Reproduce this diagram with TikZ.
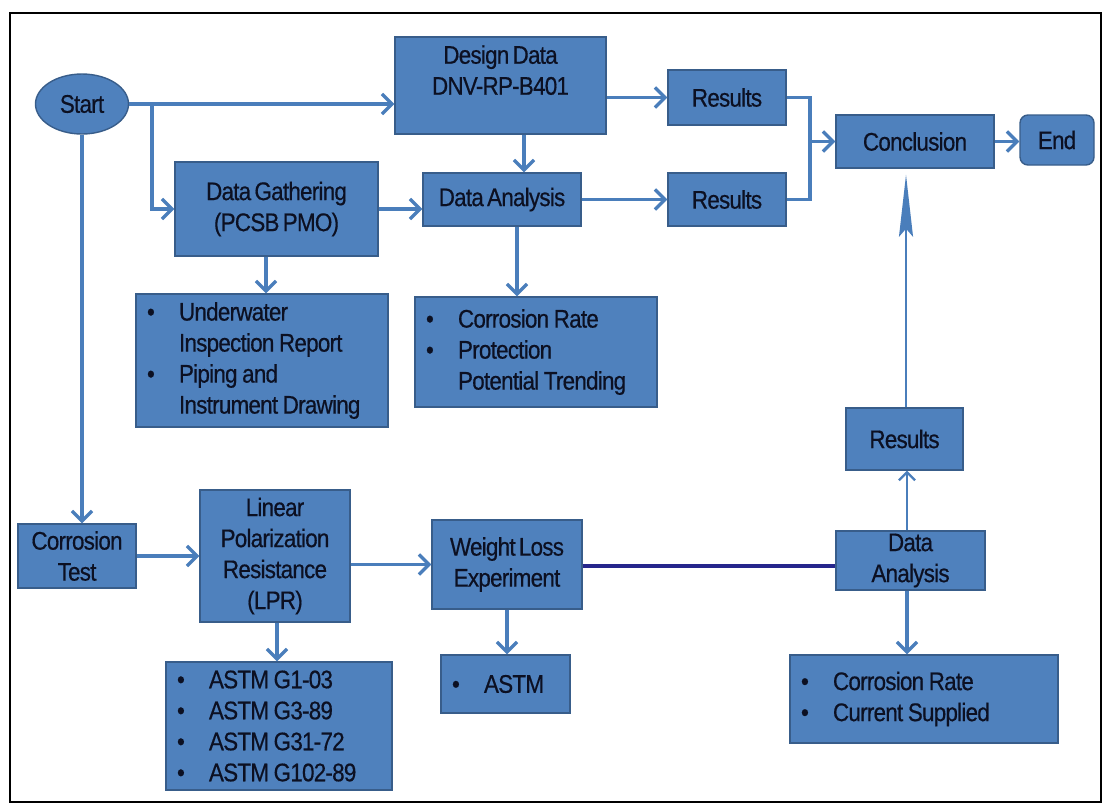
\documentclass[tikz,border=0pt]{standalone}
\usepackage{fontspec}
\setmainfont{Liberation Sans}[FakeStretch=0.88,LetterSpace=-3,FakeBold=0.5,WordSpace=0.6]
\usetikzlibrary{arrows.meta}
\usetikzlibrary{shapes.geometric,positioning}
\definecolor{boxblue}{RGB}{79,129,189}
\definecolor{boxline}{RGB}{56,93,138}
\definecolor{arrblue}{RGB}{74,126,187}
\definecolor{navy}{RGB}{38,38,140}
\definecolor{ink}{RGB}{12,16,34}
\tikzset{>={Straight Barb[length=10pt,width=20pt]}}
\newcommand{\bul}[1]{\makebox[32pt][l]{\textbullet}#1}
\newcommand{\cnt}[1]{\hspace*{32pt}#1}

\begin{document}
\begin{tikzpicture}[x=1pt,y=-1pt,
    font=\fontsize{25.5}{31}\selectfont,
    box/.style={draw=boxline,line width=1.4pt,fill=boxblue,text=ink,
      align=center,inner sep=2pt},
    lst/.style={box,align=left,inner xsep=11pt,
      execute at begin node={\spaceskip=0.18em\relax}},
    arr/.style={->,draw=arrblue,line width=3.3pt},
    thin arr/.style={->,draw=arrblue,line width=2.2pt,
      >={Straight Barb[length=8pt,width=16pt]}},
    link/.style={draw=arrblue,line width=3.3pt}]
        \useasboundingbox (0,0) rectangle (1107,804);
        \draw[line width=2.5pt] (10,13) rectangle (1101,802);
        % top row
        \node[box,ellipse,minimum width=93,minimum height=60] (start) at (82,104) {Start};
        \node[box,minimum width=211,minimum height=97] (design) at (500.5,85.5) {Design Data\\DNV-RP-B401\\~};
        \node[box,minimum width=118,minimum height=55] (res1) at (727,97.5) {Results};
        \node[box,minimum width=158,minimum height=53] (concl) at (915,141.5) {Conclusion};
        \node[box,rounded corners=8pt,minimum width=74,minimum height=50] (end) at (1057,140) {End};
        \node[box,minimum width=203,minimum height=94] (gather) at (276.5,209) {Data Gathering\\(PCSB PMO)};
        \node[box,minimum width=158,minimum height=53] (anal1) at (502,199.5) {Data Analysis};
        \node[box,minimum width=118,minimum height=53] (res2) at (727,199.5) {Results};
        \node[lst,minimum width=252,minimum height=133,text width=230pt] (under) at (262,360.5)
          {\bul{Underwater}\\\cnt{Inspection Report}\\\bul{Piping and}\\\cnt{Instrument Drawing}};
        \node[lst,minimum width=242,minimum height=110,text width=220pt] (crate1) at (536,352)
          {\bul{Corrosion Rate}\\\bul{Protection}\\\cnt{Potential Trending}};
        \node[box,minimum width=117,minimum height=62] (res3) at (904.5,439) {Results};
        % bottom row
        \node[box,minimum width=118,minimum height=64] (ctest) at (77,556) {Corrosion\\Test};
        \node[box,minimum width=150,minimum height=132] (lpr) at (275,556) {Linear\\Polarization\\Resistance\\(LPR)};
        \node[box,minimum width=150,minimum height=89] (wloss) at (507,564.5) {Weight Loss\\Experiment};
        \node[box,minimum width=149,minimum height=59] (anal2) at (910.5,560.5) {Data\\Analysis};
        \node[lst,minimum width=226,minimum height=128,text width=204pt] (astm4) at (279,726)
          {\bul{ASTM G1-03}\\\bul{ASTM G3-89}\\\bul{ASTM G31-72}\\\bul{ASTM G102-89}};
        \node[lst,minimum width=129,minimum height=58,text width=107pt] (astm) at (505.5,684) {\bul{ASTM}};
        \node[lst,minimum width=268,minimum height=88,text width=246pt] (crate2) at (924,699)
          {\bul{Corrosion Rate}\\\bul{Current Supplied}};
        \coordinate (join) at (810,141.5);
        % connectors
        \draw[arr] (start.east) -- (start.east -| design.west);
        \draw[arr] (start.east -| 152,0) |- (gather.west);
        \draw[arr] (start.south) -- (start.south |- ctest.north);
        \draw[arr] (design.south -| 524,0) -- (anal1.north -| 524,0);
        \draw[arr] (res1.west -| design.east) -- (res1.west);
        \draw[arr] (gather.east) -- (gather.east -| anal1.west);
        \draw[arr] (anal1.east) -- (res2.west);
        \draw[link] (res1.east) -| (join);
        \draw[link] (res2.east) -| (join);
        \draw[arr] (join) -- (concl.west);
        \draw[arr] (concl.east) -- (concl.east -| end.west);
        \draw[arr] (gather.south -| 266,0) -- (under.north -| 266,0);
        \draw[arr] (anal1.south -| 517,0) -- (crate1.north -| 517,0);
        \draw[arr] (ctest.east) -- (ctest.east -| lpr.west);
        \draw[arr] (lpr.east |- wloss.west) -- (wloss.west);
        \draw[arr] (lpr.south -| 277,0) -- (astm4.north -| 277,0);
        \draw[arr] (wloss.south) -- (astm.north -| wloss.south);
        \draw[navy,line width=3.5pt] (wloss.east |- 0,566) -- (anal2.west |- 0,566);
        \draw[thin arr] (anal2.north -| 907,0) -- (res3.south -| 907,0);
        \draw[arr] (anal2.south -| 907,0) -- (crate2.north -| 907,0);
        \draw[draw=arrblue,line width=2.2pt,-{Stealth[length=62pt,width=14pt,inset=8pt]}]
          (res3.north -| 906,0) -- ([yshift=-6pt]concl.south -| 906,0);
\end{tikzpicture}
\end{document}
